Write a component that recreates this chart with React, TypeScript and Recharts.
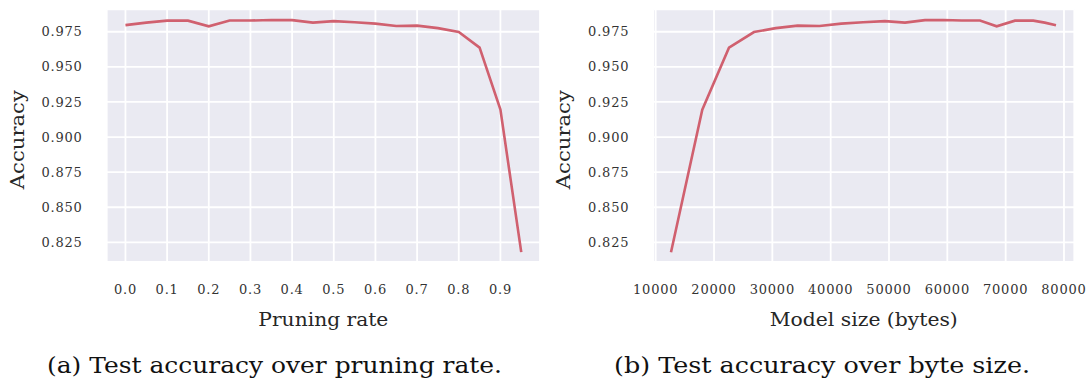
import React from 'react';
import { LineChart, Line, XAxis, YAxis, CartesianGrid, Label } from 'recharts';

const pruningRates = [0, 0.05, 0.1, 0.15, 0.2, 0.25, 0.3, 0.35, 0.4, 0.45, 0.5, 0.55, 0.6, 0.65, 0.7, 0.75, 0.8, 0.85, 0.9, 0.95];
const accuracy = [0.9797, 0.9815, 0.9829, 0.9829, 0.9789, 0.983, 0.983, 0.9834, 0.9833, 0.9815, 0.9826, 0.9818, 0.9808, 0.9791, 0.9794, 0.9776, 0.9748, 0.9637, 0.9195, 0.818];
const modelSizes = [78630, 76700, 74740, 71600, 68460, 65600, 62460, 59310, 56170, 52740, 49300, 45560, 41820, 38080, 34340, 30600, 26852, 22566, 17989, 12623];

const rateTicks = [0, 0.1, 0.2, 0.3, 0.4, 0.5, 0.6, 0.7, 0.8, 0.9];
const sizeTicks = [10000, 20000, 30000, 40000, 50000, 60000, 70000, 80000];
const accTicks = [0.825, 0.85, 0.875, 0.9, 0.925, 0.95, 0.975];

const rateData = pruningRates.map((r, i) => ({ x: r, acc: accuracy[i] }));
const sizeData = modelSizes.map((s, i) => ({ x: s, acc: accuracy[i] }));

const LINE = '#d0606f';
const BG = '#eaeaf2';
const SERIF = '"DejaVu Serif", serif';
const tickStyle = { fontFamily: SERIF, fontSize: 13, fill: '#333', letterSpacing: 0.8 };

function xTitle(text: string, len: number) {
  return ({ viewBox }: any) => (
    <text
      x={viewBox.x + viewBox.width / 2}
      y={viewBox.y + 64}
      textAnchor="middle"
      fontFamily={SERIF}
      fontSize={18}
      fill="#262626"
      textLength={len}
      lengthAdjust="spacingAndGlyphs"
    >
      {text}
    </text>
  );
}

function yTitle(text: string, dx: number) {
  return ({ viewBox }: any) => {
    const cx = viewBox.x + viewBox.width + dx;
    const cy = viewBox.y + viewBox.height / 2 + 4;
    return (
      <text
        x={cx}
        y={cy}
        transform={`rotate(-90, ${cx}, ${cy})`}
        textAnchor="middle"
        fontFamily={SERIF}
        fontSize={18}
        fill="#262626"
        textLength={99}
        lengthAdjust="spacingAndGlyphs"
      >
        {text}
      </text>
    );
  };
}

function Panel(props: {
  data: any[];
  domain: [number, number];
  ticks: number[];
  fmt: (v: number) => string;
  yWidth: number;
  right: number;
  title: string;
  titleLen: number;
}) {
  return (
    <LineChart
      width={545}
      height={340}
      data={props.data}
      margin={{ top: 9.3, right: props.right, bottom: 0, left: 0 }}
    >
      <CartesianGrid fill={BG} stroke="#fff" strokeWidth={1.8} />
      <XAxis
        dataKey="x"
        type="number"
        domain={props.domain}
        allowDataOverflow
        ticks={props.ticks}
        tickFormatter={props.fmt}
        axisLine={false}
        tickLine={false}
        tickSize={0}
        tickMargin={23}
        height={78}
        tick={tickStyle}
        interval={0}
      >
        <Label content={xTitle(props.title, props.titleLen)} />
      </XAxis>
      <YAxis
        type="number"
        domain={[0.811, 0.991]}
        allowDataOverflow
        ticks={accTicks}
        tickFormatter={(v: number) => v.toFixed(3)}
        axisLine={false}
        tickLine={false}
        tickSize={0}
        tickMargin={24}
        width={props.yWidth}
        tick={tickStyle}
        interval={0}
      >
        <Label content={yTitle('Accuracy', -83)} />
      </YAxis>
      <Line
        type="linear"
        dataKey="acc"
        stroke={LINE}
        strokeWidth={2.6}
        dot={false}
        isAnimationActive={false}
      />
    </LineChart>
  );
}

export default function App() {
  return (
    <div style={{ position: 'absolute', left: 0, top: 0, width: 1089, height: 380, background: '#fff' }}>
      <div style={{ position: 'absolute', left: 0, top: 0 }}>
        <Panel
          data={rateData}
          domain={[-0.045, 0.995]}
          ticks={rateTicks}
          fmt={(v: number) => v.toFixed(1)}
          yWidth={106.7}
          right={5}
          title="Pruning rate"
          titleLen={130}
        />
      </div>
      <div style={{ position: 'absolute', left: 545, top: 0 }}>
        <Panel
          data={sizeData}
          domain={[9590, 81770]}
          ticks={sizeTicks}
          fmt={(v: number) => String(v)}
          yWidth={108.3}
          right={15.7}
          title="Model size (bytes)"
          titleLen={188}
        />
      </div>
      <svg width={1089} height={40} style={{ position: 'absolute', left: 0, top: 340 }}>
        <text x={274.5} y={33} textAnchor="middle" fontFamily={SERIF} fontSize={22} fill="#111" textLength={455} lengthAdjust="spacingAndGlyphs">
          (a) Test accuracy over pruning rate.
        </text>
        <text x={822} y={33} textAnchor="middle" fontFamily={SERIF} fontSize={22} fill="#111" textLength={416} lengthAdjust="spacingAndGlyphs">
          (b) Test accuracy over byte size.
        </text>
      </svg>
    </div>
  );
}
